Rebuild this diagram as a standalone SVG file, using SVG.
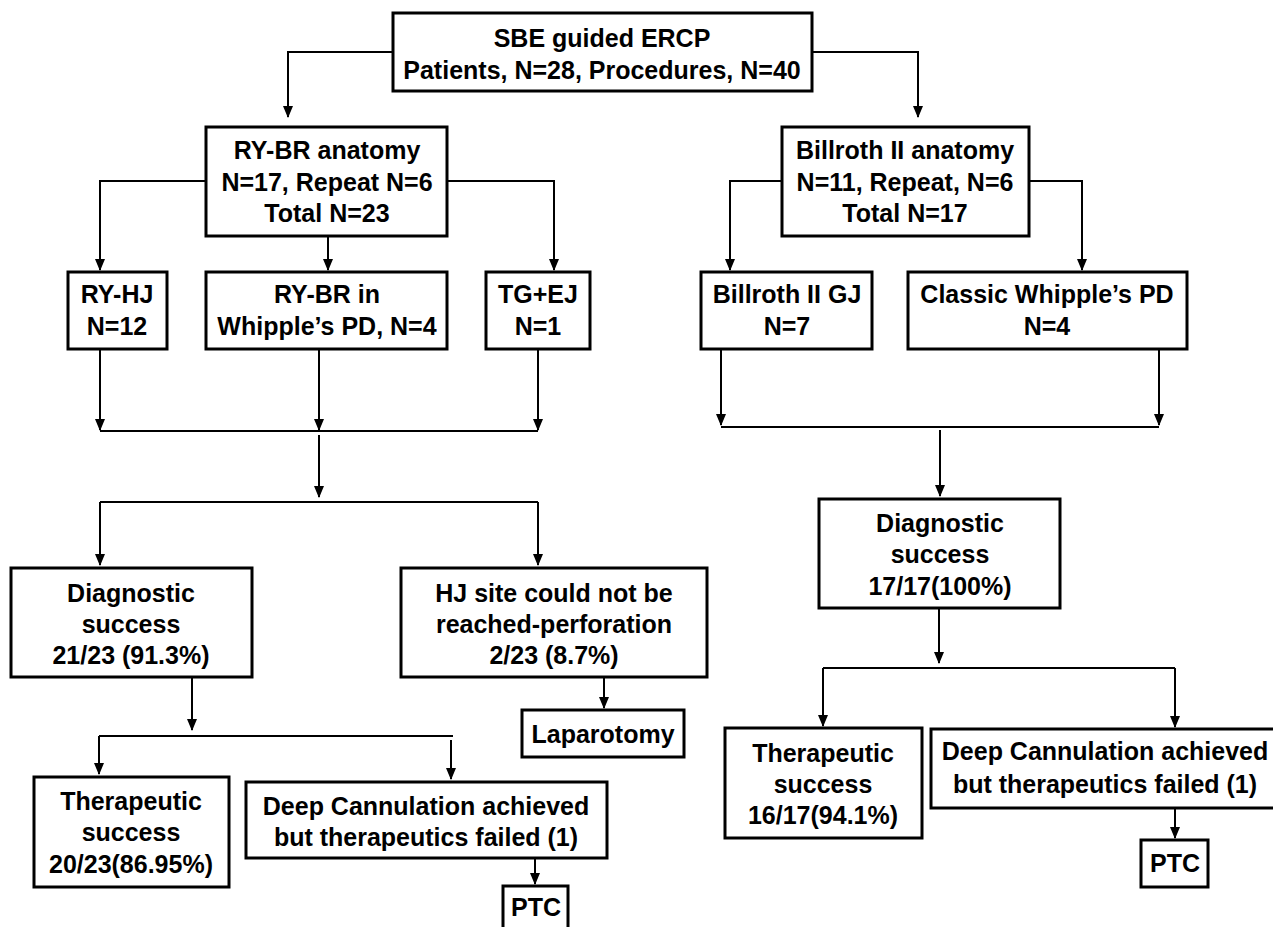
<svg xmlns="http://www.w3.org/2000/svg" width="1273" height="927" viewBox="0 0 1273 927">
<style>
.box{fill:#fff;stroke:#000;stroke-width:3}
.t{font-family:"Liberation Sans",Arial,sans-serif;font-weight:bold;font-size:25px;fill:#000;text-anchor:middle}
.c{fill:none;stroke:#000;stroke-width:2}
.a{marker-end:url(#arr)}
</style>
<defs>
<marker id="arr" markerUnits="userSpaceOnUse" markerWidth="12" markerHeight="12" refX="11" refY="5" orient="auto">
<path d="M0,0 L12,5 L0,10 z" fill="#000"/>
</marker>
</defs>
<rect width="1273" height="927" fill="#fff"/>
<g id="connectors">
<path class="c a" d="M393,52 H288 V117"/>
<path class="c a" d="M812,52 H918 V117"/>
<path class="c a" d="M206,181 H100 V270"/>
<path class="c a" d="M328,236 V270"/>
<path class="c a" d="M447,181 H554 V270"/>
<path class="c a" d="M782,181 H730 V270"/>
<path class="c a" d="M1029,181 H1082 V270"/>
<path class="c a" d="M100,349 V430"/>
<path class="c a" d="M319,349 V430"/>
<path class="c a" d="M538,349 V430"/>
<path class="c" d="M100,431 H538"/>
<path class="c a" d="M319,435 V497"/>
<path class="c" d="M100,502 H538"/>
<path class="c a" d="M100,502 V565"/>
<path class="c a" d="M538,502 V565"/>
<path class="c a" d="M192,677 V730"/>
<path class="c" d="M99,736 H453"/>
<path class="c a" d="M99,736 V774"/>
<path class="c a" d="M451,740 V779"/>
<path class="c a" d="M604,677 V708"/>
<path class="c a" d="M535,858 V884"/>
<path class="c a" d="M721,349 V425"/>
<path class="c a" d="M1159,349 V425"/>
<path class="c" d="M721,427 H1159"/>
<path class="c a" d="M940,430 V496"/>
<path class="c a" d="M939,608 V663"/>
<path class="c" d="M823,668 H1175"/>
<path class="c a" d="M823,668 V726"/>
<path class="c a" d="M1175,668 V727"/>
<path class="c a" d="M1175,808 V838"/>
</g>
<g id="n-top"><rect class="box" x="393" y="13" width="419" height="78"/><text class="t" x="602" y="47">SBE guided ERCP</text><text class="t" x="602" y="79">Patients, N=28, Procedures, N=40</text></g>
<g id="n-rybr"><rect class="box" x="206" y="127" width="241" height="109"/><text class="t" x="327" y="159">RY-BR anatomy</text><text class="t" x="327" y="191">N=17, Repeat N=6</text><text class="t" x="327" y="222">Total N=23</text></g>
<g id="n-b2"><rect class="box" x="782" y="127" width="247" height="109"/><text class="t" x="905" y="159">Billroth II anatomy</text><text class="t" x="905" y="191">N=11, Repeat, N=6</text><text class="t" x="905" y="222">Total N=17</text></g>
<g id="n-ryhj"><rect class="box" x="68" y="272" width="99" height="77"/><text class="t" x="117" y="303">RY-HJ</text><text class="t" x="117" y="335">N=12</text></g>
<g id="n-rybrw"><rect class="box" x="206" y="272" width="241" height="77"/><text class="t" x="327" y="303">RY-BR in</text><text class="t" x="327" y="335">Whipple’s PD, N=4</text></g>
<g id="n-tgej"><rect class="box" x="486" y="272" width="104" height="77"/><text class="t" x="538" y="303">TG+EJ</text><text class="t" x="538" y="335">N=1</text></g>
<g id="n-b2gj"><rect class="box" x="701" y="272" width="171" height="77"/><text class="t" x="787" y="303">Billroth II GJ</text><text class="t" x="787" y="335">N=7</text></g>
<g id="n-cwpd"><rect class="box" x="908" y="272" width="279" height="77"/><text class="t" x="1047" y="303">Classic Whipple’s PD</text><text class="t" x="1047" y="335">N=4</text></g>
<g id="n-diagL"><rect class="box" x="11" y="568" width="241" height="109"/><text class="t" x="131" y="602">Diagnostic</text><text class="t" x="131" y="633">success</text><text class="t" x="131" y="664">21/23 (91.3%)</text></g>
<g id="n-hj"><rect class="box" x="401" y="568" width="306" height="109"/><text class="t" x="554" y="602">HJ site could not be</text><text class="t" x="554" y="633">reached-perforation</text><text class="t" x="554" y="664">2/23 (8.7%)</text></g>
<g id="n-lap"><rect class="box" x="522" y="710" width="162" height="47"/><text class="t" x="603" y="743">Laparotomy</text></g>
<g id="n-therL"><rect class="box" x="34" y="777" width="195" height="110"/><text class="t" x="131" y="810">Therapeutic</text><text class="t" x="131" y="841">success</text><text class="t" x="131" y="873">20/23(86.95%)</text></g>
<g id="n-deepL"><rect class="box" x="246" y="782" width="361" height="76"/><text class="t" x="426" y="815">Deep Cannulation achieved</text><text class="t" x="426" y="846">but therapeutics failed (1)</text></g>
<g id="n-ptcL"><rect class="box" x="503" y="886" width="65" height="54"/><text class="t" x="536" y="916">PTC</text></g>
<g id="n-diagR"><rect class="box" x="819" y="499" width="241" height="109"/><text class="t" x="940" y="532">Diagnostic</text><text class="t" x="940" y="563">success</text><text class="t" x="940" y="595">17/17(100%)</text></g>
<g id="n-therR"><rect class="box" x="725" y="728" width="197" height="110"/><text class="t" x="823" y="762">Therapeutic</text><text class="t" x="823" y="793">success</text><text class="t" x="823" y="824">16/17(94.1%)</text></g>
<g id="n-deepR"><rect class="box" x="931" y="729" width="360" height="79"/><text class="t" x="1105" y="760">Deep Cannulation achieved</text><text class="t" x="1105" y="793">but therapeutics failed (1)</text></g>
<g id="n-ptcR"><rect class="box" x="1141" y="840" width="67" height="47"/><text class="t" x="1175" y="872">PTC</text></g>
</svg>
